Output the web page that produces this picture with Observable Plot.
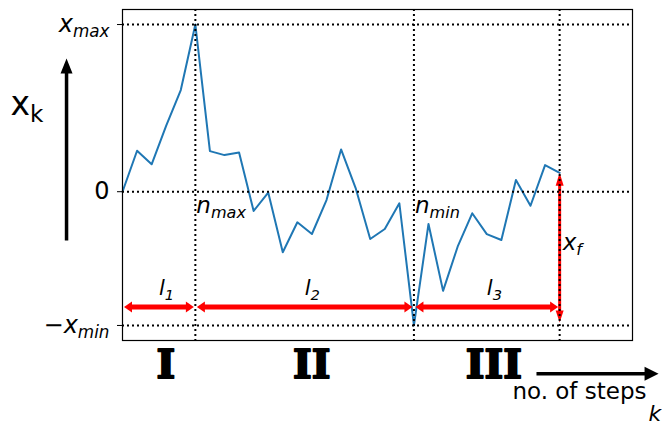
<!DOCTYPE html>
<html><head><meta charset="utf-8">
<script src="https://cdn.jsdelivr.net/npm/d3@7"></script>
<script src="https://cdn.jsdelivr.net/npm/@observablehq/plot@0.6"></script>
<style>html,body{margin:0;padding:0;background:#fff;} #chart svg{display:block}</style>
</head><body><div id="chart"></div>
<script>
// random-walk values x_k for k = 0..30
const walk = [0, 2.45, 1.64, 3.95, 6.08, 10, 2.43, 2.19, 2.35, -1.15, -0.05, -3.62, -1.83, -2.53, -0.5,
  2.53, 0.22, -2.83, -2.23, -0.69, -8, -1.93, -5.93, -3.29, -1.29, -2.54, -2.89, 0.70, -0.84, 1.59, 1.13];
const xLimit = [0, 35];
const yTickLabels = ["x_{max}", "0", "−x_{min}"];
const phaseLabels = ["I", "II", "III"];
const lengthLabels = ["l_{1}", "l_{2}", "l_{3}"];
const extremaLabels = ["n_{max}", "n_{min}"];
const finalLabel = "x_{f}";
const axisLabel = "x_{k}";
const stepsLabel = "no. of steps";
const stepsSymbol = "k";

const rows = walk.map((v, i) => ({k: i, x: v}));
const xmax = d3.max(walk), xmin = d3.min(walk);
const nmax = walk.indexOf(xmax), nmin = walk.indexOf(xmin), nfin = walk.length - 1;
const xf = walk[nfin];
const pad = 0.05 * (xmax - xmin);
const yTicks = [xmax, 0, xmin];
const bounds = [0, nmax, nmin, nfin];
const segs = d3.range(3).map(i => ({a: bounds[i], b: bounds[i + 1], mid: (bounds[i] + bounds[i + 1]) / 2,
  roman: phaseLabels[i], len: lengthLabels[i]}));

// annotation anchors (data units)
const yArrow = -6.9, yLen = -6.2, yRoman = -11.17, yName = -1.3, yXf = -3.5;

function tri(ux, uy, len, wid, shrink) {
  return {draw(ctx) {
    const px = -uy, py = ux;
    const tx = -ux * shrink, ty = -uy * shrink;
    ctx.moveTo(tx, ty);
    ctx.lineTo(tx - ux * len + px * wid / 2, ty - uy * len + py * wid / 2);
    ctx.lineTo(tx - ux * len - px * wid / 2, ty - uy * len - py * wid / 2);
    ctx.closePath();
  }};
}
const redR = tri(1, 0, 8, 11, 1.5), redL = tri(-1, 0, 8, 11, 1.5);
const redU = tri(0, -1, 13, 8, 0), redD = tri(0, 1, 12, 8, 3);
const blkU = tri(0, -1, 15, 12, 0), blkR = tri(1, 0, 14, 14, 0);

const plot = Plot.plot({
  width: 662, height: 426,
  marginLeft: 122, marginRight: 30, marginTop: 9, marginBottom: 86,
  style: {fontFamily: "DejaVu Sans", color: "black", background: "white"},
  x: {domain: xLimit, axis: null},
  y: {domain: [xmin - pad, xmax + pad], axis: null, label: null},
  marks: [
    Plot.line(rows, {x: "k", y: "x", stroke: "#1f77b4", strokeWidth: 2}),
    // red length arrows
    Plot.arrow(segs, {x1: "a", x2: "b", y1: yArrow, y2: yArrow, stroke: "red", strokeWidth: 5,
      headLength: 0, insetStart: 6, insetEnd: 6, strokeLinecap: "butt"}),
    Plot.dot(segs, {x: "b", y: yArrow, symbol: redR, fill: "red", stroke: "none", r: 5}),
    Plot.dot(segs, {x: "a", y: yArrow, symbol: redL, fill: "red", stroke: "none", r: 5}),
    Plot.arrow([0], {x1: nfin, x2: nfin, y1: xf, y2: xmin, stroke: "red", strokeWidth: 3,
      headLength: 0, insetStart: 8, insetEnd: 10, strokeLinecap: "butt"}),
    Plot.dot([0], {x: nfin, y: xf, symbol: redU, fill: "red", stroke: "none", r: 5}),
    Plot.dot([0], {x: nfin, y: xmin, symbol: redD, fill: "red", stroke: "none", r: 5}),
    // dotted guides
    Plot.ruleY(yTicks, {stroke: "black", strokeWidth: 2, strokeDasharray: "2,3"}),
    Plot.ruleX([nmax, nmin, nfin], {stroke: "black", strokeWidth: 2, strokeDasharray: "2,3"}),
    Plot.frame({stroke: "black", strokeWidth: 1.2}),
    Plot.axisY(yTicks, {tickSize: 5, tickPadding: 8, fontSize: 24, label: null,
      tickFormat: d => yTickLabels[yTicks.indexOf(d)]}),
    // labels
    Plot.text([axisLabel], {x: -7.69, y: 4.56, text: d => d, textAnchor: "start", lineAnchor: "bottom", fontSize: 33}),
    Plot.text([{k: nmax, t: extremaLabels[0]}, {k: nmin, t: extremaLabels[1]}],
      {x: "k", y: yName, text: "t", textAnchor: "start", lineAnchor: "bottom", dx: 1, fontSize: 23, fontStyle: "italic"}),
    Plot.text([finalLabel], {x: nfin, y: yXf, text: d => d, textAnchor: "start", lineAnchor: "bottom", dx: 3, fontSize: 23, fontStyle: "italic"}),
    Plot.text(segs, {x: "mid", y: yLen, text: "len", textAnchor: "start", lineAnchor: "bottom", fontSize: 21, fontStyle: "italic"}),
    Plot.text(segs, {x: "mid", y: yRoman, text: "roman", textAnchor: "middle", lineAnchor: "bottom", dx: 7,
      fontSize: 40, fontFamily: "DejaVu Serif", fontWeight: "bold", fill: "black", stroke: "black", strokeWidth: 2}),
    Plot.text([stepsLabel], {x: 26.76, y: -12.37, text: d => d, textAnchor: "start", lineAnchor: "bottom", fontSize: 23}),
    Plot.text([stepsSymbol], {x: 36.1, y: -13.71, text: d => d, textAnchor: "start", lineAnchor: "bottom", fontSize: 22, fontStyle: "italic"}),
    // black direction arrows
    Plot.arrow([0], {x1: -3.84, x2: -3.84, y1: -2.92, y2: 7.97, stroke: "black", strokeWidth: 3.5,
      headLength: 0, insetEnd: 9, strokeLinecap: "butt"}),
    Plot.dot([0], {x: -3.84, y: 7.97, symbol: blkU, fill: "black", stroke: "none", r: 5}),
    Plot.arrow([0], {x1: 28.41, x2: 36.79, y1: -10.89, y2: -10.89, stroke: "black", strokeWidth: 3.5,
      headLength: 0, insetEnd: 9, strokeLinecap: "butt"}),
    Plot.dot([0], {x: 36.79, y: -10.89, symbol: blkR, fill: "black", stroke: "none", r: 5})
  ]
});

// render subscripts as tspans
d3.select(plot).selectAll('g[aria-label="y-axis tick label"] text').attr("font-style", function() {
  return this.textContent === "0" ? "normal" : "italic";
});
d3.select(plot).selectAll("text").each(function() {
  const m = /^(−?)(.*?)_\{(.*)\}$/.exec(this.textContent);
  if (!m) return;
  const t = d3.select(this).text(null);
  if (m[1]) t.append("tspan").attr("font-style", "normal").text(m[1]);
  t.append("tspan").text(m[2]);
  t.append("tspan").attr("font-size", "0.7em").attr("dy", "0.3em").text(m[3]);
});
document.getElementById("chart").appendChild(plot);
</script>
</body></html>
